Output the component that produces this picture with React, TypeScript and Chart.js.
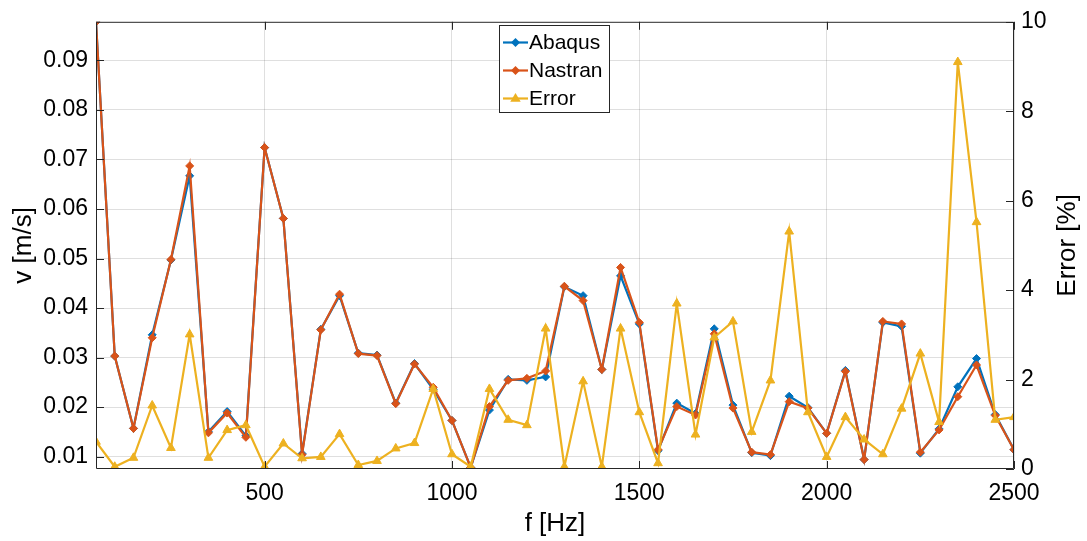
import React, { useEffect, useRef } from "react";
import { Chart, registerables } from "chart.js";

Chart.register(...registerables);

// ---- data ----
const freqs = [
  50, 100, 150, 200, 250, 300, 350, 400, 450, 500,
  550, 600, 650, 700, 750, 800, 850, 900, 950, 1000,
  1050, 1100, 1150, 1200, 1250, 1300, 1350, 1400, 1450, 1500,
  1550, 1600, 1650, 1700, 1750, 1800, 1850, 1900, 1950, 2000,
  2050, 2100, 2150, 2200, 2250, 2300, 2350, 2400, 2450, 2500,
];

const abaqus = [
  0.0978, 0.0303, 0.0157, 0.0346, 0.0497, 0.0667, 0.0150, 0.0191, 0.0142, 0.0724,
  0.0581, 0.0106, 0.0357, 0.0425, 0.0309, 0.0305, 0.0208, 0.0288, 0.0236, 0.0173,
  0.0078, 0.0194, 0.0256, 0.0254, 0.0261, 0.0443, 0.0425, 0.0276, 0.0465, 0.0368,
  0.0112, 0.0208, 0.0187, 0.0358, 0.0204, 0.0108, 0.0102, 0.0222, 0.0199, 0.0147,
  0.0274, 0.0094, 0.0371, 0.0363, 0.0107, 0.0156, 0.0241, 0.0298, 0.0185, 0.0114,
];

const nastran = [
  0.0978, 0.0303, 0.0157, 0.0340, 0.0498, 0.0687, 0.0148, 0.0188, 0.0139, 0.0724,
  0.0581, 0.0104, 0.0356, 0.0428, 0.0308, 0.0304, 0.0207, 0.0287, 0.0240, 0.0173,
  0.0078, 0.0201, 0.0254, 0.0258, 0.0273, 0.0444, 0.0415, 0.0276, 0.0482, 0.0371,
  0.0114, 0.0201, 0.0184, 0.0348, 0.0198, 0.0109, 0.0104, 0.0211, 0.0198, 0.0147,
  0.0272, 0.0094, 0.0373, 0.0368, 0.0109, 0.0154, 0.0221, 0.0285, 0.0183, 0.0114,
];

const errorPct = [
  0.61, 0.05, 0.25, 1.42, 0.47, 3.01, 0.25, 0.87, 0.98, 0.05,
  0.57, 0.24, 0.27, 0.78, 0.09, 0.18, 0.46, 0.58, 1.79, 0.33,
  0.05, 1.79, 1.10, 0.98, 3.14, 0.05, 1.96, 0.05, 3.14, 1.27,
  0.13, 3.70, 0.77, 2.94, 3.30, 0.83, 1.98, 5.31, 1.27, 0.27,
  1.16, 0.66, 0.33, 1.35, 2.58, 1.05, 9.10, 5.52, 1.10, 1.16,
];

const xTicks = [500, 1000, 1500, 2000, 2500];
const vTicks = [0.01, 0.02, 0.03, 0.04, 0.05, 0.06, 0.07, 0.08, 0.09];
const eTicks = [0, 2, 4, 6, 8, 10];
const seriesLabels = ["Abaqus", "Nastran", "Error"];

const FONT = "'Liberation Sans', Arial, Helvetica, sans-serif";
const BLUE = "#0072BD";
const RED = "#D95319";
const YEL = "#EDB120";
const AX = "#262626";
const GRID = "rgba(38,38,38,0.15)";
const TICK_SIZE = 23;
const TITLE_SIZE = 26;

function drawMarker(ctx: CanvasRenderingContext2D, kind: string, x: number, y: number, r: number, color: string) {
  ctx.fillStyle = color;
  ctx.beginPath();
  if (kind === "diamond") {
    ctx.moveTo(x, y - r);
    ctx.lineTo(x + r, y);
    ctx.lineTo(x, y + r);
    ctx.lineTo(x - r, y);
  } else {
    ctx.moveTo(x, y - r);
    ctx.lineTo(x + r * 0.95, y + r * 0.6);
    ctx.lineTo(x - r * 0.95, y + r * 0.6);
  }
  ctx.closePath();
  ctx.fill();
}

const framePlugin = {
  id: "frame",
  afterDraw(chart: any) {
    const { ctx, chartArea, scales } = chart;
    const { left, right, top, bottom } = chartArea;
    ctx.save();
    ctx.strokeStyle = AX;
    ctx.lineWidth = 1;
    // box
    ctx.beginPath();
    ctx.rect(left + 0.5, top + 0.5, right - left - 1, bottom - top - 1);
    ctx.stroke();
    // inward ticks
    const tl = 8;
    ctx.beginPath();
    xTicks.forEach((v) => {
      const px = Math.round(scales.x.getPixelForValue(v)) + 0.5;
      ctx.moveTo(px, bottom);
      ctx.lineTo(px, bottom - tl);
      ctx.moveTo(px, top);
      ctx.lineTo(px, top + tl);
    });
    vTicks.forEach((v) => {
      const py = Math.round(scales.y.getPixelForValue(v)) + 0.5;
      ctx.moveTo(left, py);
      ctx.lineTo(left + tl, py);
    });
    eTicks.forEach((v) => {
      const py = Math.round(scales.y2.getPixelForValue(v)) + 0.5;
      ctx.moveTo(right, py);
      ctx.lineTo(right - tl, py);
    });
    ctx.stroke();

    // right axis title (reads bottom-to-top)
    ctx.save();
    ctx.translate(1068, (top + bottom) / 2);
    ctx.rotate(-Math.PI / 2);
    ctx.fillStyle = "#000";
    ctx.font = `${TITLE_SIZE}px ${FONT}`;
    ctx.textAlign = "center";
    ctx.textBaseline = "middle";
    ctx.fillText("Error [%]", 0, 0);
    ctx.restore();

    // legend
    const bx = 499, by = 25, bw = 110, bh = 87;
    ctx.fillStyle = "#ffffff";
    ctx.fillRect(bx, by, bw, bh);
    ctx.strokeStyle = AX;
    ctx.strokeRect(bx + 0.5, by + 0.5, bw, bh);
    const colors = [BLUE, RED, YEL];
    const kinds = ["diamond", "diamond", "triangle"];
    const rows = [42.5, 70.5, 98.5];
    ctx.font = `21px ${FONT}`;
    ctx.textAlign = "left";
    ctx.textBaseline = "middle";
    seriesLabels.forEach((lab, i) => {
      const y = rows[i];
      ctx.strokeStyle = colors[i];
      ctx.lineWidth = 2.2;
      ctx.beginPath();
      ctx.moveTo(503, y);
      ctx.lineTo(528, y);
      ctx.stroke();
      drawMarker(ctx, kinds[i], 515.5, y, kinds[i] === "diamond" ? 4.5 : 5.5, colors[i]);
      ctx.fillStyle = "#000";
      ctx.fillText(lab, 529, y + 1);
    });
    ctx.restore();
  },
};

export default function App() {
  const ref = useRef<HTMLCanvasElement | null>(null);

  useEffect(() => {
    if (!ref.current) return;
    const pts = (arr: number[]) => freqs.map((f, i) => ({ x: f, y: arr[i] }));
    const chart = new Chart(ref.current, {
      type: "line",
      data: {
        datasets: [
          {
            label: seriesLabels[0],
            data: pts(abaqus),
            yAxisID: "y",
            borderColor: BLUE,
            backgroundColor: BLUE,
            pointBackgroundColor: BLUE,
            pointBorderColor: BLUE,
            pointStyle: "rectRot",
            pointRadius: 4,
            pointBorderWidth: 1,
            borderWidth: 2.2,
            tension: 0,
            order: 2,
          },
          {
            label: seriesLabels[1],
            data: pts(nastran),
            yAxisID: "y",
            borderColor: RED,
            backgroundColor: RED,
            pointBackgroundColor: RED,
            pointBorderColor: RED,
            pointStyle: "rectRot",
            pointRadius: 4,
            pointBorderWidth: 1,
            borderWidth: 2.2,
            tension: 0,
            order: 1,
          },
          {
            label: seriesLabels[2],
            data: pts(errorPct),
            yAxisID: "y2",
            borderColor: YEL,
            backgroundColor: YEL,
            pointBackgroundColor: YEL,
            pointBorderColor: YEL,
            pointStyle: "triangle",
            pointRadius: 5,
            pointBorderWidth: 1,
            borderWidth: 2.2,
            tension: 0,
            order: 0,
          },
        ],
      },
      options: {
        responsive: false,
        animation: false,
        devicePixelRatio: 1,
        layout: { padding: { top: 19, left: 0, right: 0, bottom: 0 } },
        plugins: {
          legend: { display: false },
          tooltip: { enabled: false },
        },
        scales: {
          x: {
            type: "linear",
            min: 50,
            max: 2500,
            afterBuildTicks: (s: any) => {
              s.ticks = xTicks.map((v) => ({ value: v }));
            },
            afterFit: (s: any) => {
              s.height = 72;
            },
            grid: { color: GRID, drawTicks: false },
            border: { display: false },
            ticks: {
              padding: 11,
              color: "#000",
              font: { family: FONT, size: TICK_SIZE },
              maxRotation: 0,
              callback: (v: any) => String(v),
            },
            title: {
              display: true,
              text: "f [Hz]",
              color: "#000",
              font: { family: FONT, size: TITLE_SIZE },
              padding: { top: 0, bottom: 2 },
            },
          },
          y: {
            type: "linear",
            position: "left",
            min: 0.0075,
            max: 0.0978,
            afterBuildTicks: (s: any) => {
              s.ticks = vTicks.map((v) => ({ value: v }));
            },
            afterFit: (s: any) => {
              s.width = 96;
            },
            grid: { color: GRID, drawTicks: false },
            border: { display: false },
            ticks: {
              padding: 8,
              color: "#000",
              font: { family: FONT, size: TICK_SIZE },
              callback: (v: any) => Number(v).toFixed(2),
            },
            title: {
              display: true,
              text: "v [m/s]",
              color: "#000",
              font: { family: FONT, size: TITLE_SIZE },
              padding: { top: 8, bottom: 0 },
            },
          },
          y2: {
            type: "linear",
            position: "right",
            min: 0,
            max: 10,
            afterBuildTicks: (s: any) => {
              s.ticks = eTicks.map((v) => ({ value: v }));
            },
            afterFit: (s: any) => {
              s.width = 73;
            },
            grid: { display: false, drawTicks: false },
            border: { display: false },
            ticks: {
              padding: 7,
              color: "#000",
              font: { family: FONT, size: TICK_SIZE },
              callback: (v: any) => String(v),
            },
          },
        },
      },
      plugins: [framePlugin],
    } as any);
    return () => chart.destroy();
  }, []);

  return (
    <div style={{ position: "absolute", left: 0, top: 0, width: 1087, height: 541, background: "#fff" }}>
      <canvas ref={ref} width={1087} height={541} />
    </div>
  );
}
